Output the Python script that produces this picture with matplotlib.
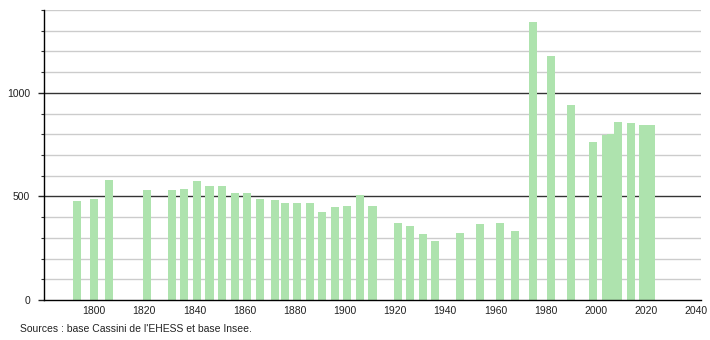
import matplotlib
matplotlib.use("Agg")
import matplotlib.pyplot as plt
from matplotlib.ticker import MultipleLocator

plt.rcParams['font.family'] = ['Liberation Sans', 'DejaVu Sans']

years = [1793, 1800, 1806, 1821, 1831, 1836, 1841, 1846, 1851, 1856,
         1861, 1866, 1872, 1876, 1881, 1886, 1891, 1896, 1901, 1906,
         1911, 1921, 1926, 1931, 1936, 1946, 1954, 1962, 1968, 1975,
         1982, 1990, 1999, 2004, 2006, 2009, 2014, 2019, 2020, 2021, 2022]
population = [478, 488, 580, 531, 531, 536, 575, 551, 551, 517,
              517, 488, 483, 467, 470, 467, 427, 449, 454, 507,
              454, 370, 357, 319, 285, 324, 367, 370, 332, 1340,
              1176, 942, 763, 797, 802, 860, 855, 845, 845, 845, 845]
x_ticks = [1800, 1820, 1840, 1860, 1880, 1900, 1920, 1940, 1960, 1980, 2000, 2020, 2040]
y_labels = [0, 500, 1000]
source_text = "Sources : base Cassini de l'EHESS et base Insee."

fig = plt.figure(figsize=(7.1, 3.4), dpi=100)
ax = fig.add_axes([44/710, 40/340, (701-44)/710, 290/340])

for v in range(100, 1500, 100):
    if v % 500 == 0:
        ax.axhline(v, color='#333333', lw=1.0, zorder=1)
    else:
        ax.axhline(v, color='#cccccc', lw=1.0, zorder=1)

ax.bar(years, population, width=3.2, color='#aee3ae', zorder=2)

ax.set_xlim(1780, 2042)
ax.set_ylim(0, 1400)
ax.set_xticks(x_ticks)
ax.set_xticklabels([str(t) for t in x_ticks])
ax.set_yticks(y_labels)
ax.set_yticklabels([str(t) for t in y_labels])
ax.yaxis.set_minor_locator(MultipleLocator(100))
ax.tick_params(axis='x', length=0, pad=4, labelsize=7.5, colors='#222222')
ax.tick_params(axis='y', which='major', length=4, width=1, pad=6, labelsize=7.5, colors='#222222')
ax.tick_params(axis='y', which='minor', length=2.5, width=0.8, color='#333333')
for s in ['top', 'right']:
    ax.spines[s].set_visible(False)
for s in ['left', 'bottom']:
    ax.spines[s].set_color('#000000')
    ax.spines[s].set_linewidth(1.0)
    ax.spines[s].set_zorder(3)

fig.text(20/710, 1 - 329/340, source_text, fontsize=7.5, va='center', ha='left', color='#222222')

fig.savefig('out.png', dpi=100, facecolor='white')
